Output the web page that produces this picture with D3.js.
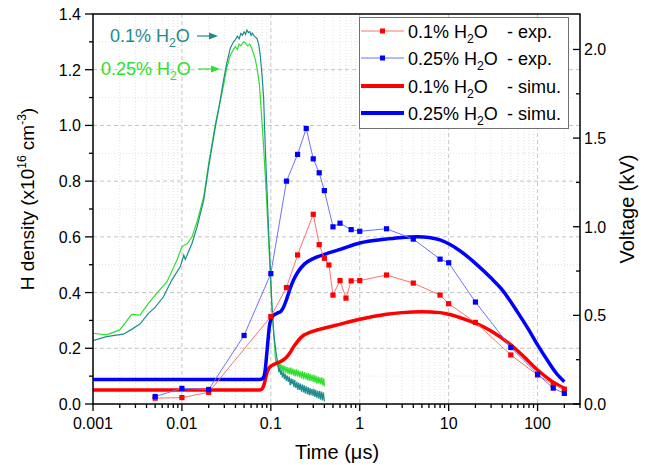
<!DOCTYPE html>
<html><head><meta charset="utf-8">
<script src="https://cdn.jsdelivr.net/npm/d3@7/dist/d3.min.js"></script>
<style>body{margin:0;background:#fff}svg{font-family:"Liberation Sans",Arial,Helvetica,sans-serif}</style>
</head><body><svg id="c" width="649" height="470"></svg>
<script>
// ---------- tick labels ----------
const xTickValues = [0.001, 0.01, 0.1, 1, 10, 100];
const xTickLabels = ["0.001", "0.01", "0.1", "1", "10", "100"];
const yLeftTicks = [0, 0.2, 0.4, 0.6, 0.8, 1.0, 1.2, 1.4];
const yLeftLabels = ["0.0", "0.2", "0.4", "0.6", "0.8", "1.0", "1.2", "1.4"];
const yRightTicks = [0, 0.5, 1.0, 1.5, 2.0];
const yRightLabels = ["0.0", "0.5", "1.0", "1.5", "2.0"];

// ---------- experimental H density (x1e16 cm^-3) ----------
const exp01Time = [0.005,0.01,0.02,0.1,0.15,0.2,0.3,0.35,0.4,0.45,0.5,0.6,0.7,0.8,1,2,4,8,10,20,50,100,150,200];
const exp01Val  = [0.021,0.023,0.042,0.314,0.418,0.535,0.681,0.572,0.523,0.499,0.391,0.443,0.380,0.442,0.443,0.463,0.434,0.391,0.360,0.293,0.176,0.104,0.070,0.053];
const exp025Time = [0.005,0.01,0.02,0.05,0.1,0.15,0.2,0.25,0.3,0.35,0.4,0.5,0.6,0.8,1,2,4,8,10,20,50,100,150,200];
const exp025Val  = [0.027,0.056,0.052,0.246,0.468,0.800,0.896,0.989,0.880,0.830,0.766,0.636,0.649,0.626,0.620,0.629,0.592,0.520,0.507,0.366,0.203,0.107,0.057,0.038];

// ---------- simulated H density ----------
const sim01Time = [0.001,0.074,0.079,0.083,0.087,0.091,0.095,0.1,0.11,0.12,0.135,0.15,0.165,0.18,0.2,0.23,0.27,0.35,0.5,0.7,1,2,3,5,8,10,15,20,30,50,70,100,140,200];
const sim01Val  = [0.050,0.050,0.053,0.065,0.090,0.115,0.128,0.136,0.143,0.148,0.156,0.168,0.185,0.205,0.225,0.245,0.256,0.268,0.280,0.292,0.304,0.322,0.328,0.331,0.328,0.322,0.305,0.290,0.262,0.212,0.170,0.122,0.085,0.056];
const sim025Time = [0.001,0.075,0.08,0.084,0.087,0.09,0.093,0.096,0.1,0.107,0.12,0.13,0.14,0.15,0.165,0.18,0.2,0.24,0.3,0.4,0.6,1,2,3,4.5,6,8,10,13,20,30,40,60,80,100,130,160,200];
const sim025Val  = [0.088,0.088,0.090,0.100,0.130,0.180,0.230,0.275,0.303,0.318,0.327,0.333,0.350,0.375,0.415,0.445,0.472,0.503,0.522,0.537,0.555,0.578,0.592,0.598,0.600,0.598,0.589,0.575,0.553,0.505,0.452,0.410,0.328,0.265,0.212,0.155,0.113,0.080];

// ---------- voltage waveforms (kV) ----------
const volt01Time = [0.001,0.00142,0.00175,0.00219,0.00272,0.00337,0.0042,0.005,0.0062,0.0077,0.0096,0.0105,0.0109,0.013,0.0148,0.0176,0.02,0.0238,0.0264,0.0292,0.0319,0.035,0.038,0.04,0.042,0.044,0.046,0.048,0.05,0.052,0.0538,0.056,0.058,0.06,0.062,0.065,0.0697,0.073,0.076,0.0796,0.083,0.087,0.091,0.095,0.099,0.103,0.108,0.115,
  0.120,0.123,0.126,0.129,0.132,0.135,0.139,0.142,0.146,0.149,0.153,0.157,0.161,0.165,0.169,0.173,0.177,0.182,0.186,0.191,0.196,0.201,0.206,0.211,0.216,0.221,0.227,0.233,0.238,0.244,0.25,0.257,0.263,0.27,0.276,0.283,0.29,0.298,0.305,0.313,0.32,0.328,0.337,0.345,0.354,0.362,0.372,0.381,0.39,0.40];
const volt01Val  = [0.357,0.380,0.387,0.394,0.421,0.451,0.511,0.545,0.605,0.699,0.775,0.840,0.815,0.907,0.999,1.150,1.339,1.564,1.686,1.818,1.922,2.007,2.043,2.055,2.075,2.060,2.090,2.080,2.100,2.085,2.110,2.095,2.100,2.080,2.092,2.075,2.063,2.030,1.969,1.856,1.724,1.414,1.180,0.943,0.754,0.550,0.393,0.283,
  0.225,0.180,0.205,0.165,0.190,0.150,0.180,0.140,0.170,0.130,0.160,0.125,0.155,0.105,0.145,0.110,0.140,0.095,0.135,0.090,0.125,0.080,0.120,0.080,0.115,0.070,0.110,0.065,0.105,0.060,0.100,0.055,0.095,0.050,0.090,0.050,0.085,0.045,0.085,0.040,0.080,0.035,0.075,0.030,0.075,0.025,0.070,0.020,0.065,0.015];
const volt025Time = [0.001,0.00142,0.002,0.00272,0.00337,0.0042,0.0052,0.0068,0.0088,0.01,0.0115,0.013,0.0148,0.0176,0.02,0.0238,0.0264,0.0292,0.0319,0.035,0.0398,0.042,0.044,0.046,0.0493,0.052,0.055,0.058,0.061,0.0665,0.07,0.0745,0.0772,0.082,0.088,0.094,0.099,0.104,0.108,
  0.112,0.115,0.118,0.121,0.124,0.127,0.13,0.134,0.137,0.14,0.144,0.148,0.152,0.156,0.16,0.164,0.168,0.172,0.177,0.181,0.186,0.19,0.195,0.2,0.205,0.21,0.216,0.221,0.227,0.233,0.239,0.245,0.251,0.257,0.264,0.27,0.277,0.284,0.291,0.299,0.306,0.314,0.322,0.33,0.339,0.347,0.356,0.365,0.374,0.384,0.394,0.40];
const volt025Val  = [0.399,0.390,0.418,0.506,0.501,0.567,0.624,0.690,0.812,0.888,0.905,0.943,1.028,1.169,1.358,1.582,1.686,1.790,1.894,1.969,2.016,2.000,2.030,2.020,2.043,2.035,2.020,2.030,2.007,1.950,1.894,1.799,1.686,1.493,1.226,0.943,0.707,0.503,0.393,
  0.270,0.220,0.250,0.205,0.235,0.195,0.225,0.185,0.220,0.180,0.215,0.175,0.210,0.170,0.205,0.165,0.205,0.165,0.200,0.160,0.195,0.155,0.195,0.155,0.190,0.150,0.185,0.145,0.185,0.140,0.180,0.140,0.175,0.135,0.175,0.130,0.170,0.130,0.165,0.125,0.165,0.120,0.160,0.115,0.155,0.115,0.150,0.110,0.150,0.105,0.145,0.100];

// ---------- legend ----------
const legendLabels = ["0.1% H", "0.25% H", "0.1% H", "0.25% H"];
const legendSuffix = ["- exp.", "- exp.", "- simu.", "- simu."];

// ================= drawing =================
const svg = d3.select("#c");
const L = 93, R = 580, T = 14, B = 404;
const x = d3.scaleLog().domain([0.001, 300]).range([L, R]);
const yL = d3.scaleLinear().domain([0, 1.4]).range([B, T]);
const yR = d3.scaleLinear().domain([0, 2.2]).range([B, T]);

const red = "#ff0000", blue = "#0000ff", teal = "#1e8c8c", green = "#2ee02e";

const xMinor = [];
for (let e = -3; e <= 2; e++) for (let m = 2; m <= 9; m++) { const v = m * Math.pow(10, e); if (v <= 300) xMinor.push(v); }
const yMinor = d3.range(0.1, 1.4, 0.2);
const yRMinor = [0.25, 0.75, 1.25, 1.75];

// grid
const g = svg.append("g");
g.selectAll(".gxm").data(xMinor).join("line").attr("x1", d => x(d)).attr("x2", d => x(d)).attr("y1", T).attr("y2", B)
  .attr("stroke", "#e2e2e2").attr("stroke-dasharray", "1,2");
g.selectAll(".gym").data(yMinor).join("line").attr("x1", L).attr("x2", R).attr("y1", d => yL(d)).attr("y2", d => yL(d))
  .attr("stroke", "#e2e2e2").attr("stroke-dasharray", "1,2");
g.selectAll(".gx").data(xTickValues.slice(1)).join("line").attr("x1", d => x(d)).attr("x2", d => x(d)).attr("y1", T).attr("y2", B)
  .attr("stroke", "#c4c4c4").attr("stroke-dasharray", "4,3");
g.selectAll(".gy").data(yLeftTicks.slice(1, -1)).join("line").attr("x1", L).attr("x2", R).attr("y1", d => yL(d)).attr("y2", d => yL(d))
  .attr("stroke", "#c4c4c4").attr("stroke-dasharray", "4,3");

svg.append("clipPath").attr("id", "clp").append("rect").attr("x", L).attr("y", T).attr("width", R - L).attr("height", B - T);
const plot = svg.append("g").attr("clip-path", "url(#clp)");

function series(times, vals, ys, curve) {
  return d3.line().x(d => x(d[0])).y(d => ys(d[1])).curve(curve || d3.curveLinear)(times.map((t, i) => [t, vals[i]]));
}
// voltage
plot.append("path").attr("d", series(volt025Time, volt025Val, yR)).attr("fill", "none").attr("stroke", green).attr("stroke-width", 1.2);
plot.append("path").attr("d", series(volt01Time, volt01Val, yR)).attr("fill", "none").attr("stroke", teal).attr("stroke-width", 1.2);
// simu
plot.append("path").attr("d", series(sim01Time, sim01Val, yL, d3.curveMonotoneX)).attr("fill", "none").attr("stroke", red).attr("stroke-width", 3.5);
plot.append("path").attr("d", series(sim025Time, sim025Val, yL, d3.curveMonotoneX)).attr("fill", "none").attr("stroke", blue).attr("stroke-width", 3.5);
// exp
function expSeries(times, vals, lc, mc) {
  plot.append("path").attr("d", series(times, vals, yL)).attr("fill", "none").attr("stroke", lc).attr("stroke-width", 1);
  plot.selectAll(null).data(times.map((t, i) => [t, vals[i]])).join("rect")
    .attr("x", d => x(d[0]) - 2.6).attr("y", d => yL(d[1]) - 2.6).attr("width", 5.2).attr("height", 5.2).attr("fill", mc);
}
expSeries(exp01Time, exp01Val, "#ff7070", red);
expSeries(exp025Time, exp025Val, "#7070ff", blue);

// frame
svg.append("rect").attr("x", L).attr("y", T).attr("width", R - L).attr("height", B - T).attr("fill", "none")
  .attr("stroke", "#000").attr("stroke-width", 1.5);

const tk = svg.append("g").attr("stroke", "#000").attr("stroke-width", 1.3);
tk.selectAll(".bx").data(xTickValues).join("line").attr("x1", d => x(d)).attr("x2", d => x(d)).attr("y1", B).attr("y2", B + 7);
tk.selectAll(".bxm").data(xMinor).join("line").attr("x1", d => x(d)).attr("x2", d => x(d)).attr("y1", B).attr("y2", B + 4);
tk.selectAll(".ly").data(yLeftTicks).join("line").attr("x1", L - 8).attr("x2", L).attr("y1", d => yL(d)).attr("y2", d => yL(d));
tk.selectAll(".lym").data(yMinor).join("line").attr("x1", L - 4).attr("x2", L).attr("y1", d => yL(d)).attr("y2", d => yL(d));
tk.selectAll(".ry").data(yRightTicks).join("line").attr("x1", R - 7).attr("x2", R).attr("y1", d => yR(d)).attr("y2", d => yR(d));
tk.selectAll(".rym").data(yRMinor).join("line").attr("x1", R - 4).attr("x2", R).attr("y1", d => yR(d)).attr("y2", d => yR(d));

const fs = 16;
svg.selectAll(".xl").data(xTickValues).join("text").attr("x", d => x(d)).attr("y", 429).attr("text-anchor", "middle")
  .attr("font-size", fs).text((d, i) => xTickLabels[i]);
svg.selectAll(".yl").data(yLeftTicks).join("text").attr("x", 81).attr("y", d => yL(d) + 6).attr("text-anchor", "end")
  .attr("font-size", fs).text((d, i) => yLeftLabels[i]);
svg.selectAll(".yr").data(yRightTicks).join("text").attr("x", 584).attr("y", d => yR(d) + 6).attr("text-anchor", "start")
  .attr("font-size", fs).text((d, i) => yRightLabels[i]);

svg.append("text").attr("x", 337).attr("y", 459).attr("text-anchor", "middle").attr("font-size", 20).text("Time (μs)");
svg.append("text").attr("transform", "translate(634,209) rotate(-90)").attr("text-anchor", "middle").attr("font-size", 20).text("Voltage (kV)");
const yt = svg.append("text").attr("transform", "translate(34,199) rotate(-90)").attr("text-anchor", "middle").attr("font-size", 19);
yt.append("tspan").text("H density (x10");
yt.append("tspan").attr("font-size", 12).attr("dy", -8).text("16");
yt.append("tspan").attr("dy", 8).text(" cm");
yt.append("tspan").attr("font-size", 12).attr("dy", -8).text("-3");
yt.append("tspan").attr("dy", 8).text(")");

function h2o(sel, prefix, size) {
  sel.append("tspan").text(prefix);
  sel.append("tspan").attr("font-size", size * 0.68).attr("dy", size * 0.28).text("2");
  sel.append("tspan").attr("dy", -size * 0.28).text("O");
}

const a1 = svg.append("text").attr("x", 110).attr("y", 42).attr("font-size", 18).attr("fill", teal);
h2o(a1, "0.1% H", 18);
const a2 = svg.append("text").attr("x", 101).attr("y", 75).attr("font-size", 18).attr("fill", green);
h2o(a2, "0.25% H", 18);
function arrow(x1, x2, yy, col) {
  svg.append("line").attr("x1", x1).attr("x2", x2 - 7).attr("y1", yy).attr("y2", yy).attr("stroke", col).attr("stroke-width", 1.2);
  svg.append("path").attr("d", `M${x2},${yy} L${x2 - 9},${yy - 3.5} L${x2 - 9},${yy + 3.5} Z`).attr("fill", col);
}
arrow(197, 218, 36, teal);
arrow(198, 220, 69, green);

const lg = svg.append("g");
lg.append("rect").attr("x", 359.5).attr("y", 17.5).attr("width", 209).attr("height", 111).attr("fill", "#fff").attr("stroke", "#707070").attr("stroke-width", 1);
const rowsY = [31, 58, 86, 113];
const legendStyles = [
  { c: "#ff7070", w: 1, m: red }, { c: "#7070ff", w: 1, m: blue },
  { c: red, w: 4, m: null }, { c: blue, w: 4, m: null }
];
rowsY.forEach((yy, i) => {
  const s = legendStyles[i];
  lg.append("line").attr("x1", 361).attr("x2", 404).attr("y1", yy).attr("y2", yy).attr("stroke", s.c).attr("stroke-width", s.w);
  if (s.m) lg.append("rect").attr("x", 380).attr("y", yy - 2.5).attr("width", 5).attr("height", 5).attr("fill", s.m);
  const t = lg.append("text").attr("x", 408).attr("y", yy + 6.5).attr("font-size", 18);
  h2o(t, legendLabels[i], 18);
  lg.append("text").attr("x", 507).attr("y", yy + 6.5).attr("font-size", 18).text(legendSuffix[i]);
});
</script></body></html>
